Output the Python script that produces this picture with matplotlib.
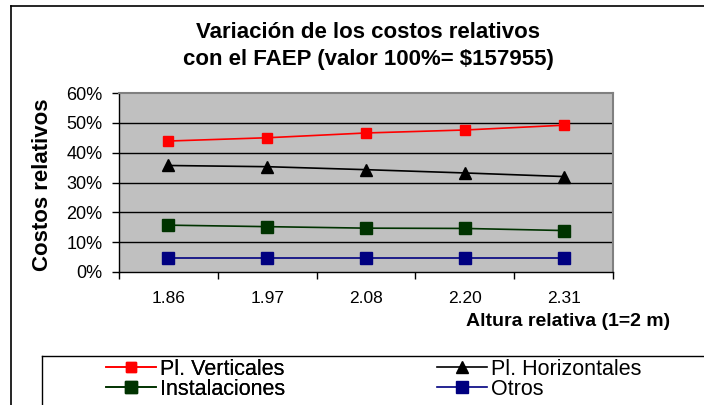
import matplotlib
matplotlib.use("Agg")
import matplotlib.pyplot as plt
from matplotlib.lines import Line2D
import numpy as np

plt.rcParams['font.family'] = ['Liberation Sans', 'DejaVu Sans']

categories = ["1.86", "1.97", "2.08", "2.20", "2.31"]
pl_verticales = [43.9, 45.0, 46.6, 47.6, 49.2]
pl_horizontales = [35.7, 35.3, 34.3, 33.2, 32.0]
instalaciones = [15.7, 15.2, 14.7, 14.6, 13.9]
otros = [4.7, 4.7, 4.7, 4.7, 4.7]
yticks = [0, 10, 20, 30, 40, 50, 60]
ytick_labels = ["0%", "10%", "20%", "30%", "40%", "50%", "60%"]

W, H = 704, 405
fig = plt.figure(figsize=(W / 100, H / 100), dpi=100)
fig.patch.set_facecolor("white")

ax = fig.add_axes([119 / W, 1 - 272 / H, (613 - 119) / W, (272 - 93) / H])
ax.set_facecolor("#C0C0C0")

x = np.arange(len(categories))
l1, = ax.plot(x, pl_verticales, color="#FF0000", lw=1.2, marker="s", ms=7,
              mfc="#FF0000", mec="#FF0000", label="Pl. Verticales")
l2, = ax.plot(x, pl_horizontales, color="black", lw=1.2, marker="^", ms=8,
              mfc="black", mec="black", label="Pl. Horizontales")
l3, = ax.plot(x, instalaciones, color="#003300", lw=1.2, marker="s", ms=8.5,
              mfc="#003300", mec="#003300", label="Instalaciones")
l4, = ax.plot(x, otros, color="#000080", lw=1.2, marker="s", ms=8.5,
              mfc="#000080", mec="#000080", label="Otros")

ax.set_xlim(-0.5, len(categories) - 0.5)
ax.set_ylim(0, 60)
ax.set_yticks(yticks)
ax.set_yticklabels(ytick_labels, fontsize=13)
ax.set_xticks(x)
ax.set_xticklabels(categories, fontsize=12.5)
ax.set_xticks(np.arange(-0.5, len(categories), 1.0), minor=True)
ax.tick_params(axis="x", which="major", length=0, pad=14)
ax.tick_params(axis="x", which="minor", length=5, width=1, direction="out")
ax.tick_params(axis="y", length=5, width=1, direction="out", pad=7)

for v in yticks[1:-1]:
    ax.axhline(v, color="black", lw=1, zorder=1)

for s in ["left", "bottom"]:
    ax.spines[s].set_color("black")
    ax.spines[s].set_linewidth(1)
for s in ["top", "right"]:
    ax.spines[s].set_color("#808080")
    ax.spines[s].set_linewidth(1.5)

fig.text(368 / W, 1 - 32 / H, "Variación de los costos relativos", ha="center",
         va="center", fontsize=16, fontweight="bold")
fig.text(368 / W, 1 - 59 / H, "con el FAEP (valor 100%= $157955)", ha="center",
         va="center", fontsize=16, fontweight="bold")

fig.text(43 / W, 1 - 185 / H, "Costos relativos", rotation=90, ha="center",
         va="center", fontsize=16, fontweight="bold")
fig.text(568 / W, 1 - 321 / H, "Altura relativa (1=2 m)", ha="center",
         va="center", fontsize=14, fontweight="bold")

# outer frame
fig.add_artist(Line2D([11 / W, 11 / W], [0, 1 - 6 / H], color="black", lw=1.2,
                      transform=fig.transFigure))
fig.add_artist(Line2D([11 / W, 1], [1 - 6 / H, 1 - 6 / H], color="black", lw=1.2,
                      transform=fig.transFigure))
# legend frame
fig.add_artist(Line2D([42 / W, 42 / W], [0, 1 - 356 / H], color="black", lw=1,
                      transform=fig.transFigure))
fig.add_artist(Line2D([42 / W, 1], [1 - 356 / H, 1 - 356 / H], color="black", lw=1,
                      transform=fig.transFigure))

leg_kw = dict(loc="upper left", frameon=False, fontsize=15.5, handlelength=2.3,
              handletextpad=0.2, labelspacing=-0.05, borderaxespad=0,
              borderpad=0, markerscale=1.0)
leg1 = fig.legend(handles=[l1, l3], bbox_to_anchor=(106 / W, 1 - 359 / H), **leg_kw)
fig.add_artist(leg1)
leg2 = fig.legend(handles=[l2, l4], bbox_to_anchor=(437 / W, 1 - 359 / H), **leg_kw)

fig.savefig("out.png", dpi=100)
